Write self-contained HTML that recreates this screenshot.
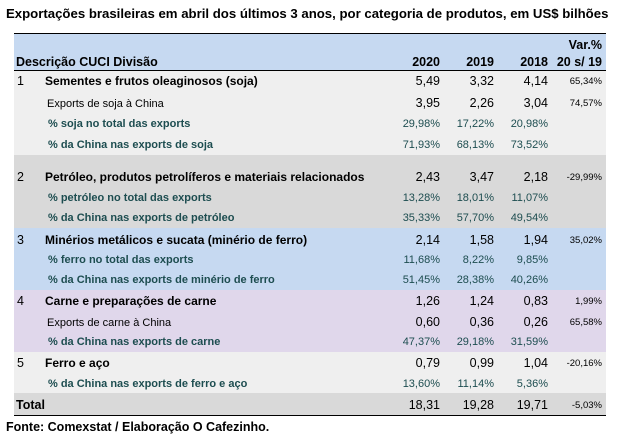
<!DOCTYPE html>
<html><head><meta charset="utf-8"><style>
body{margin:0;width:620px;height:441px;background:#fff;position:relative;overflow:hidden;font-family:"Liberation Sans",sans-serif;color:#000}
.bg{position:absolute;left:14px;width:592px}
.t{position:absolute;white-space:nowrap;line-height:14px}
.r{text-align:right}
.b{font-weight:bold}
.m{font-size:12.5px}
.ml{font-size:12px}
.s{font-size:10.5px}
.g{color:#1d4d50;font-size:11px}
.v{font-size:9.5px}
</style></head><body>
<div class="t b" style="left:6px;top:7px;font-size:13.2px">Exportações brasileiras em abril dos últimos 3 anos, por categoria de produtos, em US$ bilhões</div>
<div class="bg" style="top:33px;height:38px;background:#c6d9f1;border-top:1.5px solid #000;border-bottom:1.5px solid #000;box-sizing:border-box"></div>
<div class="bg" style="top:71px;height:84px;background:#efefef"></div>
<div class="bg" style="top:155px;height:73px;background:#d9d9d9"></div>
<div class="bg" style="top:228px;height:62px;background:#c6d9f1"></div>
<div class="bg" style="top:290px;height:62px;background:#e0d7eb"></div>
<div class="bg" style="top:352px;height:41px;background:#efefef"></div>
<div class="bg" style="top:393px;height:23px;background:#d9d9d9;border-bottom:1px solid #000;box-sizing:border-box"></div>
<div class="t b m" style="left:16px;top:55px">Descrição CUCI Divisão</div>
<div class="t b m r" style="right:180px;top:55px">2020</div>
<div class="t b m r" style="right:126px;top:55px">2019</div>
<div class="t b m r" style="right:72px;top:55px">2018</div>
<div class="t b m r" style="right:18px;top:38px">Var.%</div>
<div class="t b m r" style="right:18px;top:55px">20 s/ 19</div>
<div id="rows"></div>
<div class="t b m" style="left:6px;top:420px">Fonte: Comexstat / Elaboração O Cafezinho.</div>
<script>
const labels=["1|Sementes e frutos oleaginosos (soja)","s|Exports de soja à China","g|% soja no total das exports","g|% da China nas exports de soja",
"2|Petróleo, produtos petrolíferos e materiais relacionados","g|% petróleo no total das exports","g|% da China nas exports de petróleo",
"3|Minérios metálicos e sucata (minério de ferro)","g|% ferro no total das exports","g|% da China nas exports de minério de ferro",
"4|Carne e preparações de carne","s|Exports de carne à China","g|% da China nas exports de carne",
"5|Ferro e aço","g|% da China nas exports de ferro e aço","T|Total"];
const tops=[74,96,117,138,170,191,211,233,253,273,294,315,335,356,377,398];
const v2020=["5,49","3,95","29,98%","71,93%","2,43","13,28%","35,33%","2,14","11,68%","51,45%","1,26","0,60","47,37%","0,79","13,60%","18,31"];
const v2019=["3,32","2,26","17,22%","68,13%","3,47","18,01%","57,70%","1,58","8,22%","28,38%","1,24","0,36","29,18%","0,99","11,14%","19,28"];
const v2018=["4,14","3,04","20,98%","73,52%","2,18","11,07%","49,54%","1,94","9,85%","40,26%","0,83","0,26","31,59%","1,04","5,36%","19,71"];
const vvar=["65,34%","74,57%","","","-29,99%","","","35,02%","","","1,99%","65,58%","","-20,16%","","-5,03%"];
const root=document.getElementById('rows');
function add(cls,txt,style,name){const d=document.createElement('div');d.className='t '+cls;d.textContent=txt;d.style.cssText=style;


root.appendChild(d);}
labels.forEach((l,i)=>{const [k,txt]=l.split('|');const y=tops[i];
let vc;
if(k==='s'){vc='m';add('s',txt,'left:47px;top:'+(y+1)+'px;font-size:11px','row-label-'+i);}
else if(k==='g'){vc='g';add('g b',txt,'left:48px;top:'+y+'px','row-label-'+i);}
else if(k==='T'){vc='m';add('b m',txt,'left:16px;top:'+y+'px','row-label-'+i);}
else{vc='m';add('m',k,'left:17px;top:'+y+'px','row-number-'+i);add('b ml',txt,'left:45px;top:'+y+'px','row-label-'+i);}
add('r '+vc,v2020[i],'right:180px;top:'+y+'px','value-2020-'+i);
add('r '+vc,v2019[i],'right:126px;top:'+y+'px','value-2019-'+i);
add('r '+vc,v2018[i],'right:72px;top:'+y+'px','value-2018-'+i);
if(vvar[i])add('r v',vvar[i],'right:18px;top:'+(y+1)+'px','value-var-'+i);
});
</script>
</body></html>
